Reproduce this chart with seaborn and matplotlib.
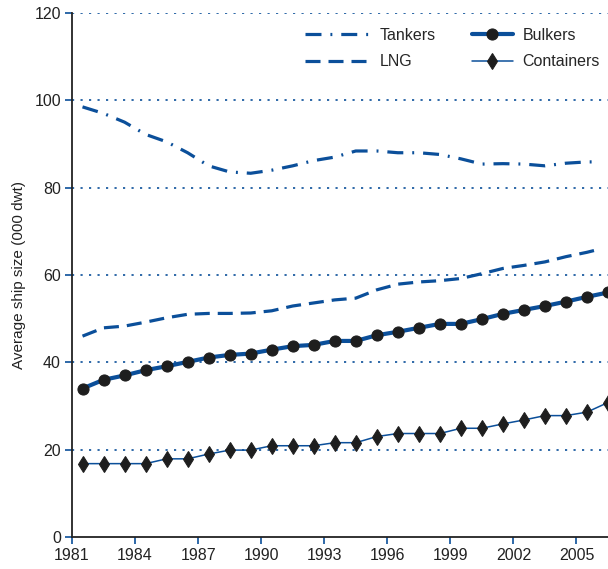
import numpy as np
import pandas as pd
import matplotlib
matplotlib.use("Agg")
import matplotlib.pyplot as plt
import seaborn as sns

# ── Data (000 dwt) ───────────────────────────────────────────────────────────
years = [1981.5 + i for i in range(26)]            # mid-year points 1981..2006
smooth_years = [1981.5 + i for i in range(25)] + [2006.0]

tankers = [98.5, 97.0, 95.0, 92.2, 90.5, 88.0, 85.0, 83.6, 83.3, 84.0,
           85.0, 86.2, 87.0, 88.4, 88.4, 88.0, 88.0, 87.6, 86.6, 85.4,
           85.5, 85.4, 85.0, 85.6, 85.9, 85.9]
lng = [46.0, 47.9, 48.3, 49.2, 50.2, 51.0, 51.2, 51.2, 51.3, 51.8,
       52.9, 53.6, 54.3, 54.7, 56.6, 57.9, 58.4, 58.7, 59.2, 60.3,
       61.5, 62.2, 63.0, 64.2, 65.2, 65.8]
bulkers = [34.0, 36.0, 37.0, 38.2, 39.1, 40.1, 41.1, 41.7, 42.0, 42.9,
           43.7, 44.0, 44.9, 44.9, 46.2, 47.0, 47.9, 48.8, 48.8, 49.9,
           51.1, 52.0, 52.9, 53.9, 55.0, 56.0]
containers = [16.8, 16.8, 16.8, 16.8, 17.9, 17.9, 19.0, 19.9, 19.9, 20.9,
              20.9, 20.9, 21.6, 21.6, 23.0, 23.7, 23.7, 23.7, 24.9, 24.9,
              25.9, 26.8, 27.8, 27.8, 28.6, 30.8]

x_ticks = [1981, 1984, 1987, 1990, 1993, 1996, 1999, 2002, 2005]
y_ticks = [0, 20, 40, 60, 80, 100, 120]

BLUE = '#0b4f9a'
DARK = '#1e1e1e'
FS = 11.5

sns.set_style('ticks')
plt.rcParams.update({'font.family': ['Liberation Sans', 'DejaVu Sans'],
                     'font.size': FS, 'axes.spines.top': False,
                     'axes.spines.right': False})

fig = plt.figure(figsize=(6.08, 5.69), dpi=100)
ax = fig.add_axes([72 / 608, 32 / 569, 536 / 608, 524 / 569])

# gridlines first, behind the series
for y in y_ticks[1:]:
    ax.axhline(y, color=BLUE, linewidth=1.2, linestyle=(0, (1.3, 3.8)), zorder=1)

sns.lineplot(x=smooth_years, y=tankers, ax=ax, color=BLUE, linewidth=2.3,
             linestyle=(0, (5.0, 2.8, 0.6, 2.8)), label='Tankers', zorder=3)
sns.lineplot(x=smooth_years, y=lng, ax=ax, color=BLUE, linewidth=2.3,
             linestyle=(0, (4.7, 2.5)), label='LNG', zorder=3)
sns.lineplot(x=years, y=bulkers, ax=ax, color=BLUE, linewidth=3.0,
             marker='o', markersize=8, markerfacecolor=DARK,
             markeredgecolor=DARK, label='Bulkers', zorder=4, clip_on=False)
sns.lineplot(x=years, y=containers, ax=ax, color=BLUE, linewidth=1.1,
             marker='d', markersize=8.5, markerfacecolor=DARK,
             markeredgecolor=DARK, label='Containers', zorder=4, clip_on=False)

ax.set_xlim(1981, 2006.5)
ax.set_ylim(0, 120)
ax.set_xticks(x_ticks)
ax.set_yticks(y_ticks)
ax.tick_params(axis='both', colors=BLUE, labelcolor='#222222', labelsize=FS,
               length=5, width=1.2, direction='out', pad=3)
for side in ('left', 'bottom'):
    ax.spines[side].set_color('#222222')
    ax.spines[side].set_linewidth(1.3)
ax.set_xlabel('')
ax.set_ylabel('Average ship size (000 dwt)', fontsize=11, color='#222222', labelpad=6)

# two legends so each column keeps its own handle length
handles, labels = ax.get_legend_handles_labels()
leg1 = ax.legend(handles[:2], labels[:2], loc='upper left',
                 bbox_to_anchor=(0.435, 0.972), frameon=False, handlelength=3.95,
                 handletextpad=0.7, labelspacing=0.72, borderpad=0,
                 borderaxespad=0, fontsize=FS)
ax.add_artist(leg1)
ax.legend(handles[2:], labels[2:], loc='upper left',
          bbox_to_anchor=(0.746, 0.972), frameon=False, handlelength=2.56,
          handletextpad=0.6, labelspacing=0.72, borderpad=0,
          borderaxespad=0, fontsize=FS)

plt.savefig('out.png', dpi=100)
